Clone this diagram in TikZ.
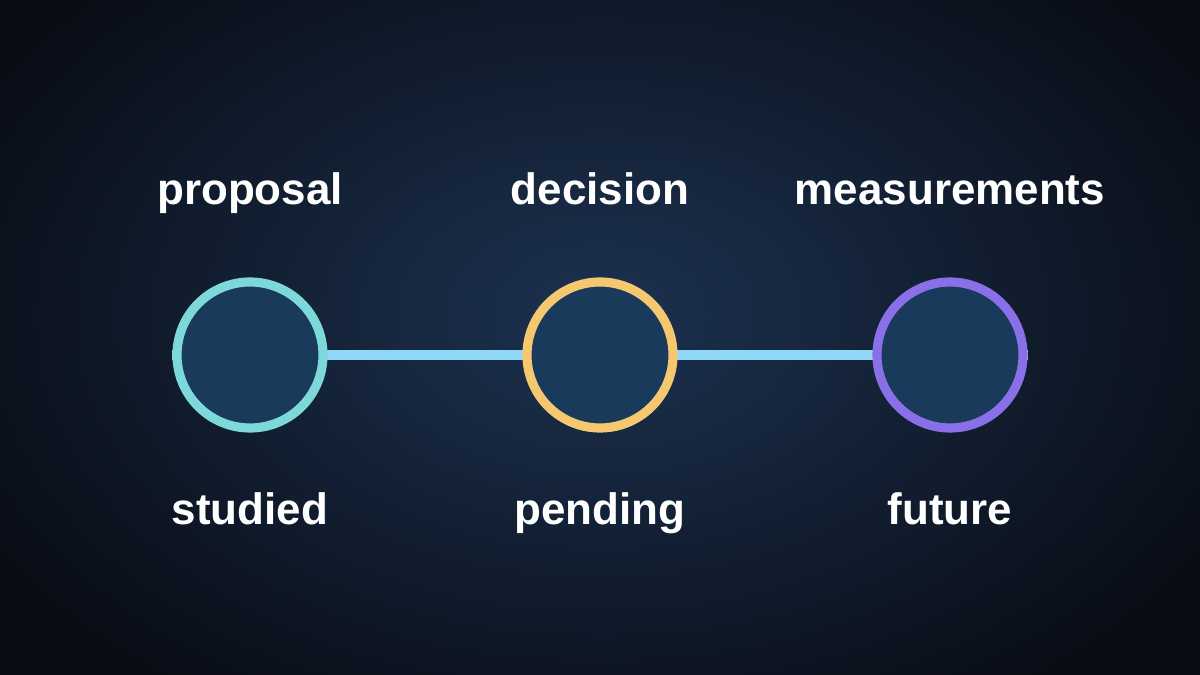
\documentclass[tikz,border=0pt]{standalone}
\usepackage{fontspec}
\setmainfont{Liberation Sans}
\begin{document}
\begin{tikzpicture}
  \definecolor{bgouter}{RGB}{9,13,22}
  \definecolor{bginner}{RGB}{28,50,80}
  \definecolor{discfill}{RGB}{26,58,92}
  \definecolor{linkblue}{RGB}{143,216,248}
  \definecolor{tealring}{RGB}{125,217,217}
  \definecolor{goldring}{RGB}{245,200,112}
  \definecolor{violetring}{RGB}{138,112,232}
  \tikzset{
    stage/.style={circle,draw=#1,line width=2.6pt,fill=discfill,minimum size=1.46cm,inner sep=0pt},
    label/.style={text=white,anchor=base,font=\fontsize{12.5}{15}\selectfont\bfseries},
  }
  \useasboundingbox (0,0) rectangle (12,6.75);
  \fill[bgouter] (0,0) rectangle (12,6.75);
  \begin{scope}
    \clip (0,0) rectangle (12,6.75);
    \shade[inner color=bginner,outer color=bgouter] (6,3.6) ellipse (7 and 4.6);
  \end{scope}
  \coordinate (start) at (1.72,3.2);
  \coordinate (stop) at (10.28,3.2);
  \draw[linkblue,line width=2.6pt] (start) -- (stop);
  \node[stage=tealring] (studiedring) at (2.5,3.2) {};
  \node[stage=goldring] (pendingring) at (6,3.2) {};
  \node[stage=violetring] (futurering) at (9.5,3.2) {};
  \node[label] (proposal) at (2.5,4.7) {proposal};
  \node[label] (decision) at (6,4.7) {decision};
  \node[label] (measurements) at (9.5,4.7) {measurements};
  \node[label] (studied) at (2.5,1.5) {studied};
  \node[label] (pending) at (6,1.5) {pending};
  \node[label] (future) at (9.5,1.5) {future};
\end{tikzpicture}
\end{document}
